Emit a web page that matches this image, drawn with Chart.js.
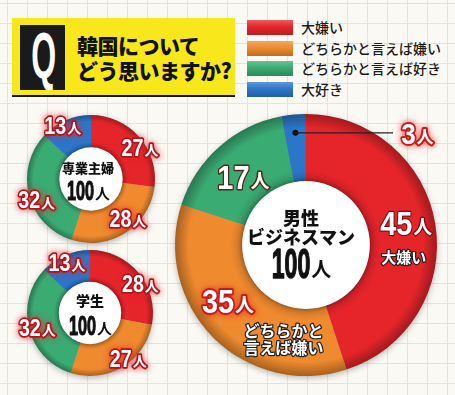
<!DOCTYPE html>
<html>
<head>
<meta charset="utf-8">
<script src="https://cdn.jsdelivr.net/npm/chart.js@4.4.0/dist/chart.umd.min.js"></script>
<style>
  html, body { margin: 0; padding: 0; }
  body {
    width: 455px; height: 395px; overflow: hidden; position: relative;
    background-color: #fbf9f4;
    background-image: linear-gradient(#e7e3da 1px, transparent 1px), linear-gradient(90deg, #e7e3da 1px, transparent 1px);
    background-size: 20px 20px;
    background-position: 7px 3px;
    font-family: "Noto Sans CJK JP", sans-serif;
  }
  canvas { position: absolute; left: 0; top: 0; }
  #qbox { position: absolute; left: 12px; top: 18px; width: 223px; height: 77px; background: #f7e71b; border-bottom: 2px solid #111; }
  #qmark { position: absolute; left: 8px; top: 7px; width: 45px; height: 65px; background: #1a1a1a; overflow: hidden; }
  #qmark span { position: absolute; left: 0; width: 45px; top: -6px; text-align: center; color: #fff;
    font: bold 64px "Liberation Sans", Arial, sans-serif; transform: scaleX(0.5); transform-origin: 50% 50%; }
  #qtext { position: absolute; left: 65px; top: 15px; font-size: 21px; font-weight: 900; line-height: 25px; color: #111; letter-spacing: -0.5px; }
  #legend { position: absolute; left: 247px; top: 20px; }
  .row { position: relative; height: 20.5px; }
  .sw { position: absolute; left: 0; top: 0; width: 46px; height: 15px; }
  .lt { position: absolute; left: 54px; top: -3px; font-size: 14px; color: #1b1b1b; white-space: nowrap; font-weight: 500; }
</style>
</head>
<body>
<div id="qbox">
  <div id="qmark"><span>Q</span></div>
  <div id="qtext">韓国について<br>どう思いますか?</div>
</div>
<div id="legend"></div>
<canvas id="housewife" width="455" height="395"></canvas>
<canvas id="student" width="455" height="395"></canvas>
<canvas id="business" width="455" height="395"></canvas>
<script>
const categories = ['大嫌い', 'どちらかと言えば嫌い', 'どちらかと言えば好き', '大好き'];
const housewifeCounts = [27, 28, 32, 13];
const studentCounts = [28, 27, 32, 13];
const businessmanCounts = [45, 35, 17, 3];
const unitLabel = '人';
const colors = ['#e6252b', '#ef8a2e', '#3aab73', '#2c76c9'];

function shade(hex, f) {
  let r = parseInt(hex.slice(1, 3), 16), g = parseInt(hex.slice(3, 5), 16), b = parseInt(hex.slice(5, 7), 16);
  if (f < 0) { r *= 1 + f; g *= 1 + f; b *= 1 + f; }
  else { r += (255 - r) * f; g += (255 - g) * f; b += (255 - b) * f; }
  return `rgb(${Math.round(r)},${Math.round(g)},${Math.round(b)})`;
}

// legend
const legend = document.getElementById('legend');
categories.forEach((c, i) => {
  const row = document.createElement('div');
  row.className = 'row';
  row.innerHTML = `<div class="sw" style="background:linear-gradient(${shade(colors[i], 0.25)}, ${colors[i]} 45%, ${shade(colors[i], -0.2)})"></div><div class="lt">${c}</div>`;
  legend.appendChild(row);
});

// ring shading, darker at the edges
function ringFill(context) {
  const base = colors[context.dataIndex];
  const area = context.chart.chartArea;
  if (!area) return base;
  const cx = (area.left + area.right) / 2, cy = (area.top + area.bottom) / 2;
  const r = Math.min(area.right - area.left, area.bottom - area.top) / 2;
  const g = context.chart.ctx.createRadialGradient(cx, cy, r * 0.47, cx, cy, r);
  g.addColorStop(0, shade(base, -0.18));
  g.addColorStop(0.2, base);
  g.addColorStop(0.8, base);
  g.addColorStop(1, shade(base, -0.3));
  return g;
}

function drawCount(ctx, n, x, y, o) {
  const num = String(n);
  const numFont = `bold ${o.size}px "Liberation Sans", Arial, sans-serif`;
  const unitFont = `bold ${o.unitSize}px "Noto Sans CJK JP", sans-serif`;
  ctx.save();
  ctx.textBaseline = 'alphabetic';
  ctx.textAlign = 'left';
  ctx.lineJoin = 'round';
  ctx.font = numFont;
  const wNum = ctx.measureText(num).width * o.sx;
  ctx.font = unitFont;
  const wUnit = ctx.measureText(unitLabel).width;
  const x0 = x - (wNum + wUnit) / 2;
  const base = y + o.size * 0.358;
  const passes = o.stroke ? ['stroke', 'fill'] : ['fill'];
  passes.forEach(pass => {
    ctx.save();
    if (pass === 'stroke') {
      ctx.strokeStyle = o.stroke;
      ctx.lineWidth = o.lw;
      if (o.glow) { ctx.shadowColor = o.glow; ctx.shadowBlur = 6; }
    } else {
      ctx.fillStyle = o.fill;
      ctx.strokeStyle = o.fill;
      ctx.lineWidth = o.bold || 0;
    }
    ctx.save();
    ctx.translate(x0, base);
    ctx.scale(o.sx, 1);
    ctx.font = numFont;
    if (pass === 'stroke') ctx.strokeText(num, 0, 0);
    else { ctx.fillText(num, 0, 0); if (o.bold) ctx.strokeText(num, 0, 0); }
    ctx.restore();
    ctx.font = unitFont;
    const ub = base - o.unitSize * 0.06;
    if (pass === 'stroke') ctx.strokeText(unitLabel, x0 + wNum + 1, ub);
    else ctx.fillText(unitLabel, x0 + wNum + 1, ub);
    ctx.restore();
  });
  ctx.restore();
}

function drawText(ctx, s, x, y, o) {
  ctx.save();
  ctx.font = `${o.weight || 'bold'} ${o.size}px "Noto Sans CJK JP", sans-serif`;
  ctx.textAlign = 'center';
  ctx.textBaseline = 'middle';
  ctx.lineJoin = 'round';
  if (o.stroke) {
    ctx.strokeStyle = o.stroke;
    ctx.lineWidth = o.lw;
    ctx.strokeText(s, x, y);
  }
  ctx.fillStyle = o.fill;
  ctx.fillText(s, x, y);
  ctx.restore();
}

const ringLabels = {
  id: 'ringLabels',
  beforeDatasetsDraw(chart) {
    const ctx = chart.ctx;
    const a = chart.getDatasetMeta(0).data[0].getProps(['x', 'y', 'outerRadius'], true);
    ctx.save();
    ctx.shadowColor = 'rgba(0,0,0,0.35)';
    ctx.shadowBlur = 7;
    ctx.shadowOffsetY = 2;
    ctx.beginPath();
    ctx.arc(a.x, a.y, a.outerRadius - 1, 0, Math.PI * 2);
    ctx.fillStyle = '#888';
    ctx.fill();
    ctx.restore();
  },
  afterDatasetsDraw(chart, args, opts) {
    const ctx = chart.ctx;
    const meta = chart.getDatasetMeta(0);
    const counts = chart.data.datasets[0].data;
    const c = meta.data[0].getProps(['x', 'y', 'innerRadius', 'outerRadius'], true);

    // white centre disc
    ctx.save();
    ctx.shadowColor = 'rgba(0,0,0,0.45)';
    ctx.shadowBlur = 5;
    ctx.beginPath();
    ctx.arc(c.x, c.y, c.innerRadius + 1, 0, Math.PI * 2);
    ctx.fillStyle = '#fff';
    ctx.fill();
    ctx.restore();

    // centre title
    opts.center.forEach((line, i) => {
      drawText(ctx, line, c.x + opts.centerDx, c.y + opts.centerDy[i], { size: opts.centerSize, fill: '#111', weight: '900' });
    });
    const total = counts.reduce((s, v) => s + v, 0);
    drawCount(ctx, total, c.x + opts.centerDx, c.y + opts.totalDy, opts.totalStyle);

    // segment counts
    meta.data.forEach((arc, i) => {
      const p = arc.getProps(['startAngle', 'endAngle', 'innerRadius', 'outerRadius'], true);
      const mid = (p.startAngle + p.endAngle) / 2;
      if (opts.leader && opts.leader.index === i) {
        const L = opts.leader;
        const dx = c.x + Math.cos(mid) * p.outerRadius * L.r;
        const dy = c.y + Math.sin(mid) * p.outerRadius * L.r;
        ctx.save();
        ctx.strokeStyle = '#222';
        ctx.lineWidth = 1.2;
        ctx.beginPath();
        ctx.moveTo(dx, dy);
        ctx.lineTo(c.x + L.lineTo, dy);
        ctx.stroke();
        ctx.fillStyle = '#111';
        ctx.beginPath();
        ctx.arc(dx, dy, 3, 0, Math.PI * 2);
        ctx.fill();
        ctx.restore();
        drawCount(ctx, counts[i], c.x + L.textDx, dy, opts.styles[i]);
        return;
      }
      const r = (p.innerRadius + p.outerRadius) / 2;
      const lx = c.x + Math.cos(mid) * r + opts.nudge[i][0];
      const ly = c.y + Math.sin(mid) * r + opts.nudge[i][1];
      drawCount(ctx, counts[i], lx, ly, opts.styles[i]);
      const sub = opts.sub && opts.sub[i];
      if (sub) {
        sub.lines.forEach((s, k) => {
          drawText(ctx, s, lx + sub.dx, ly + sub.dy + k * sub.gap, { size: sub.size, fill: '#fff', stroke: '#222', lw: 2.5, weight: 'bold' });
        });
      }
    });
  }
};

function makeRing(id, counts, padding, labelOpts) {
  return new Chart(document.getElementById(id), {
    type: 'doughnut',
    data: {
      labels: categories,
      datasets: [{ data: counts, backgroundColor: ringFill, borderWidth: 0 }]
    },
    options: {
      responsive: false,
      animation: false,
      events: [],
      cutout: '48%',
      layout: { padding },
      plugins: {
        legend: { display: false },
        tooltip: { enabled: false },
        ringLabels: labelOpts
      }
    },
    plugins: [ringLabels]
  });
}

const smallNum = { size: 24, sx: 0.82, unitSize: 14, fill: '#fff', stroke: '#b0141c', lw: 3.5, glow: 'rgba(230,40,40,0.9)' };
const smallTotal = { size: 28, sx: 0.58, unitSize: 15, fill: '#111', bold: 1.2 };

makeRing('housewife', housewifeCounts, { left: 27, right: 300, top: 115, bottom: 152 }, {
  nudge: [[13, 0], [11, -1], [-9, 9], [-10, -10]],
  styles: [smallNum, smallNum, smallNum, smallNum],
  center: ['専業主婦'], centerDx: -3, centerDy: [-11], centerSize: 13,
  totalDy: 11, totalStyle: smallTotal
});

makeRing('student', studentCounts, { left: 27, right: 302, top: 250, bottom: 19 }, {
  nudge: [[14, 0], [14, 5], [-8, 3], [-5, -8]],
  styles: [smallNum, smallNum, smallNum, smallNum],
  center: ['学生'], centerDx: 0, centerDy: [-12], centerSize: 14,
  totalDy: 12, totalStyle: smallTotal
});

const bigRed = { size: 34, sx: 0.85, unitSize: 19, fill: '#fff', stroke: '#7a0d10', lw: 2.5 };
const bigOrange = { size: 34, sx: 0.85, unitSize: 19, fill: '#fff', stroke: '#c41c1c', lw: 4, glow: 'rgba(220,30,30,0.8)' };
const bigGreen = { size: 34, sx: 0.85, unitSize: 19, fill: '#fff', stroke: '#4a2a1a', lw: 3 };
const bigBlue = { size: 30, sx: 0.85, unitSize: 17, fill: '#fff', stroke: '#c41c1c', lw: 4, glow: 'rgba(230,50,40,0.9)' };

makeRing('business', businessmanCounts, { left: 175, right: 18, top: 114, bottom: 19 }, {
  nudge: [[4, -7], [-10, -13], [1, 5], [0, 0]],
  styles: [bigRed, bigOrange, bigGreen, bigBlue],
  leader: { index: 3, r: 0.86, lineTo: 87, textDx: 111 },
  sub: {
    0: { lines: [categories[0]], dx: -2, dy: 34, gap: 0, size: 15 },
    1: { lines: [categories[1].slice(0, 5), categories[1].slice(5)], dx: 56, dy: 30, gap: 17, size: 16 }
  },
  center: ['男性', 'ビジネスマン'], centerDx: -5, centerDy: [-27, -8], centerSize: 18,
  totalDy: 18, totalStyle: { size: 42, sx: 0.55, unitSize: 20, fill: '#111', bold: 1.5 }
});
</script>
</body>
</html>
